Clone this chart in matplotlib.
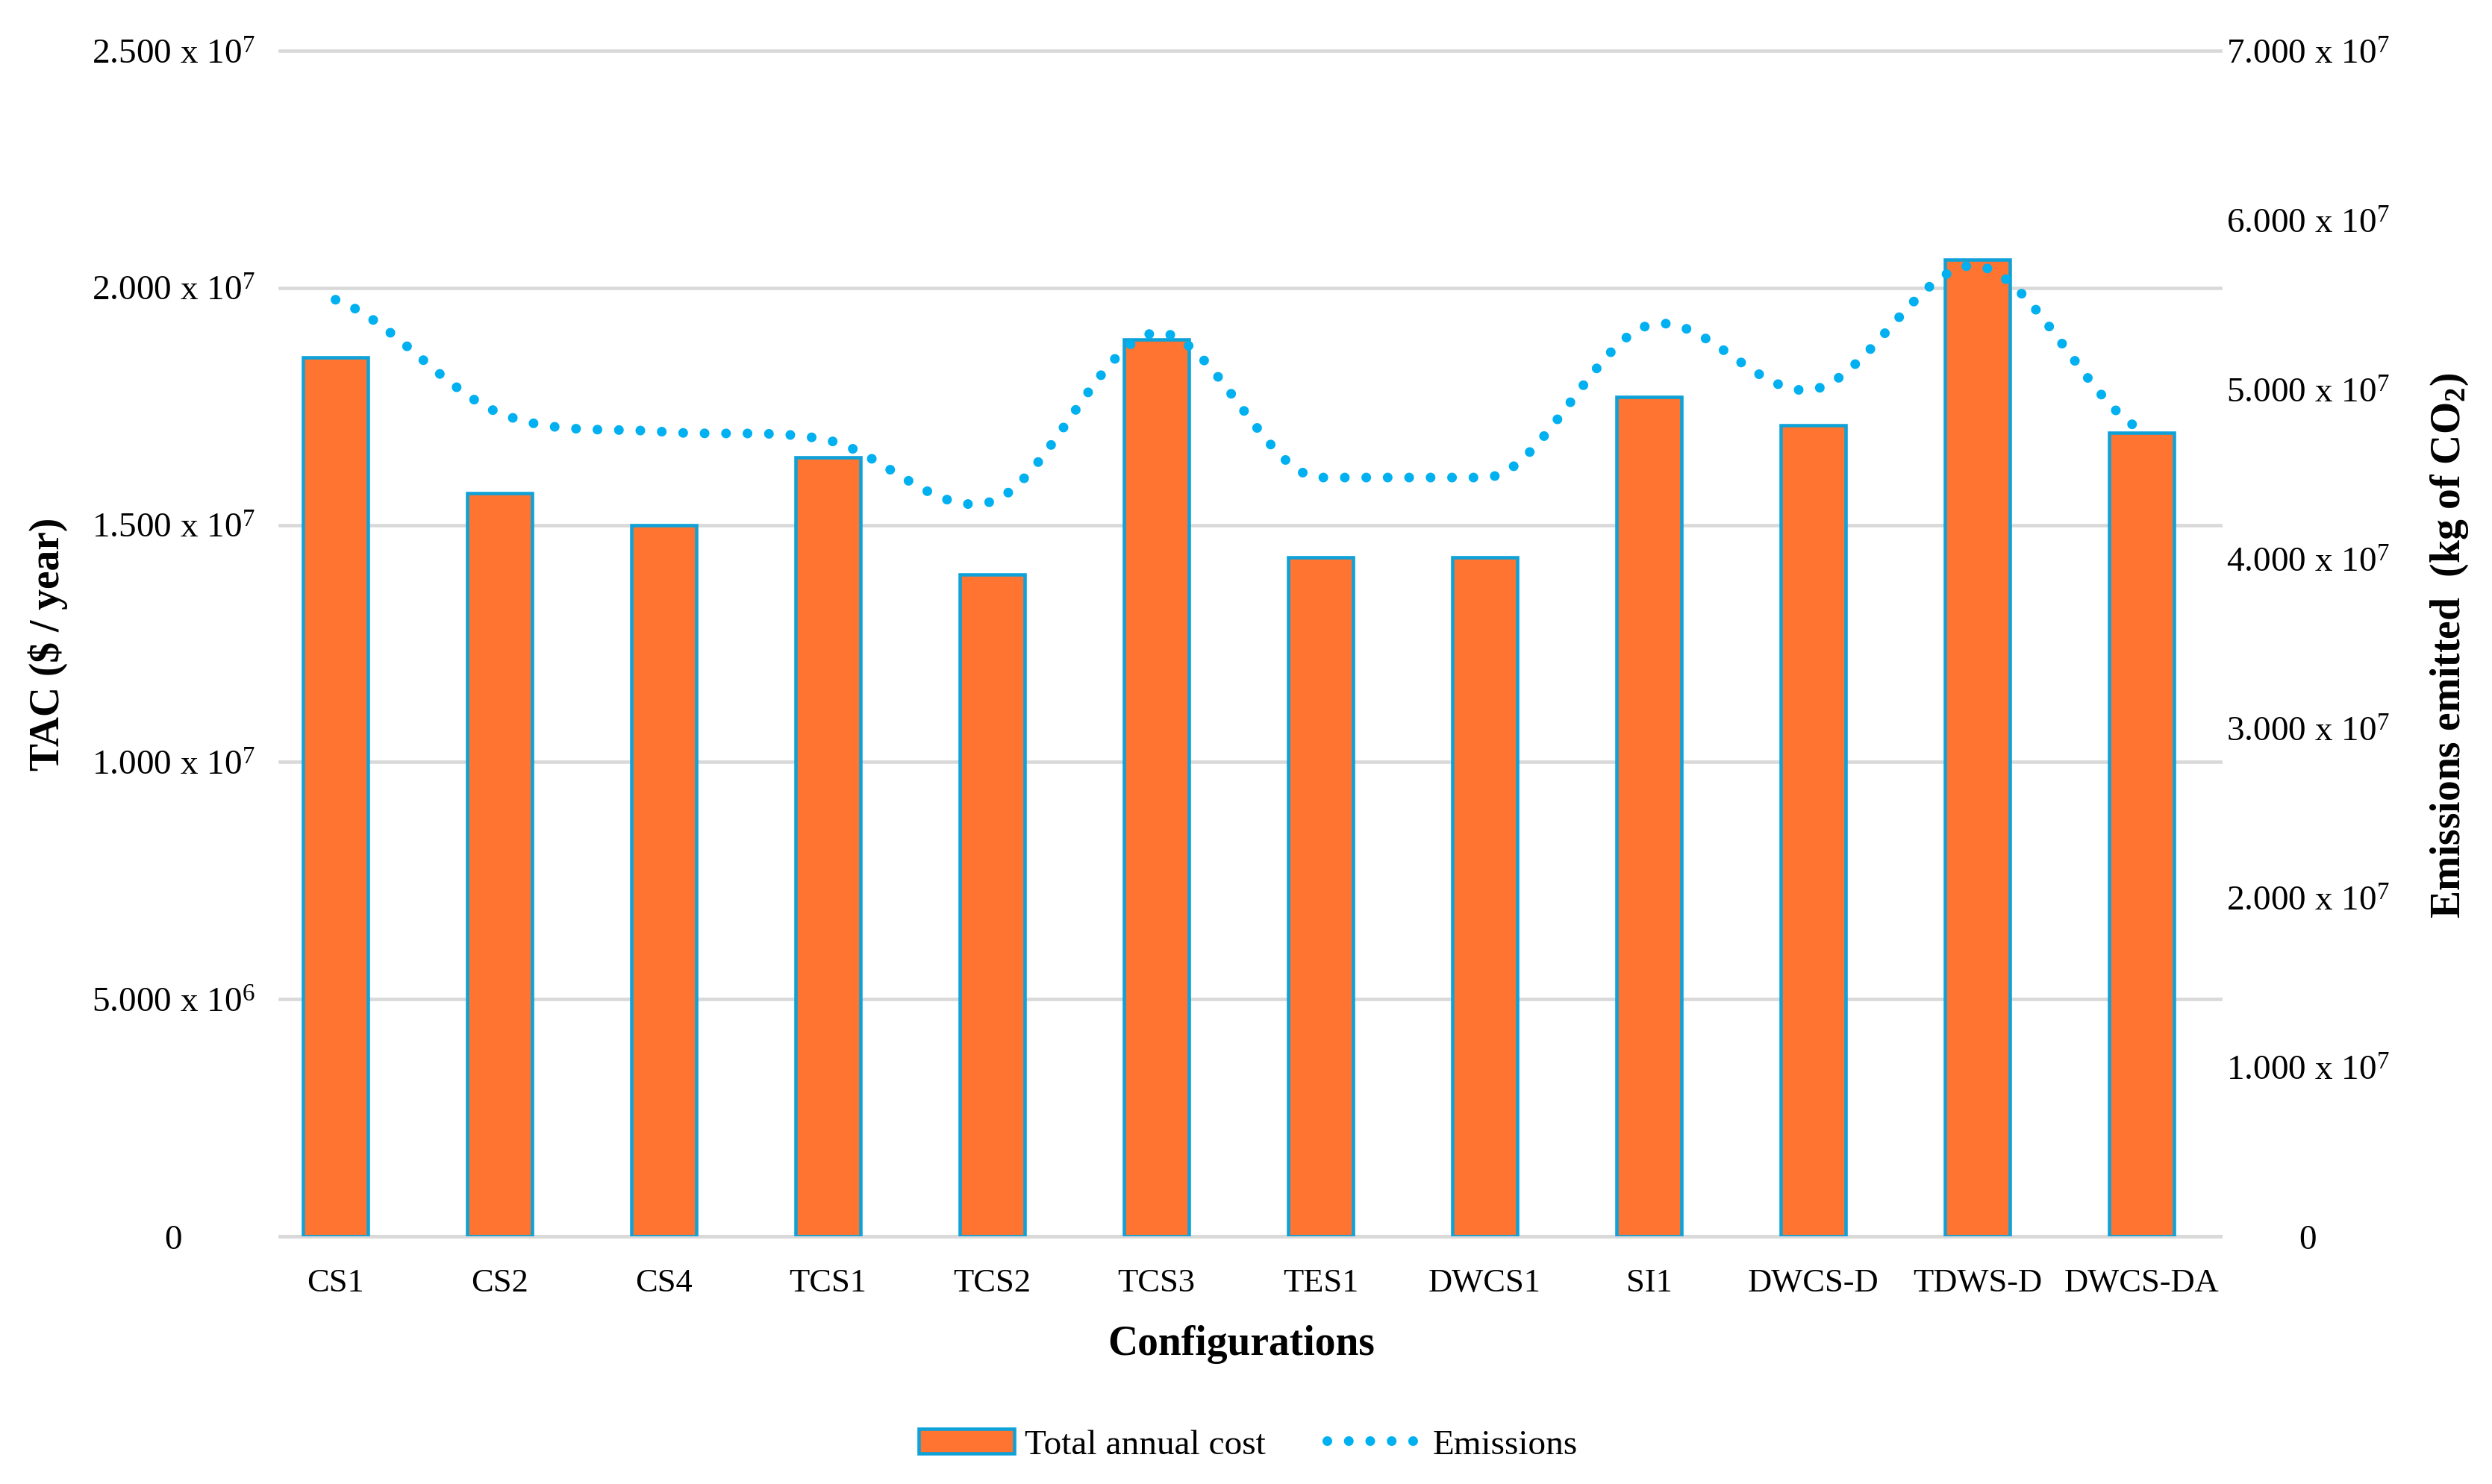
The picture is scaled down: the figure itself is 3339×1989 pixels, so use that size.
import numpy as np
import matplotlib
matplotlib.use("Agg")
import matplotlib.pyplot as plt
from matplotlib.path import Path
from matplotlib.patches import PathPatch, Patch
from matplotlib.lines import Line2D
import matplotlib.transforms as mtransforms

plt.rcParams['font.family'] = ['Liberation Serif', 'DejaVu Serif']
plt.rcParams['mathtext.fontset'] = 'custom'
plt.rcParams['mathtext.rm'] = 'Liberation Serif'
plt.rcParams['mathtext.it'] = 'Liberation Serif:italic'
plt.rcParams['mathtext.bf'] = 'Liberation Serif:bold'

# ---------------- data ----------------
categories = ["CS1", "CS2", "CS4", "TCS1", "TCS2", "TCS3", "TES1", "DWCS1",
              "SI1", "DWCS-D", "TDWS-D", "DWCS-DA"]
total_annual_cost = [18.53e6, 15.67e6, 15.00e6, 16.43e6, 13.95e6, 18.91e6,
                     14.32e6, 14.32e6, 17.70e6, 17.10e6, 20.59e6, 16.94e6]
emissions = [55.3e6, 48.6e6, 47.5e6, 47.0e6, 43.4e6, 53.35e6,
             44.8e6, 44.8e6, 53.8e6, 50.0e6, 57.3e6, 47.6e6]
left_ticks = [0, 5e6, 1e7, 1.5e7, 2e7, 2.5e7]
left_tick_labels = ["0", "5.000 x 10$^{\\mathrm{6}}$", "1.000 x 10$^{\\mathrm{7}}$",
                    "1.500 x 10$^{\\mathrm{7}}$", "2.000 x 10$^{\\mathrm{7}}$",
                    "2.500 x 10$^{\\mathrm{7}}$"]
right_ticks = [0, 1e7, 2e7, 3e7, 4e7, 5e7, 6e7, 7e7]
right_tick_labels = ["0"] + ["%d.000 x 10$^{\\mathrm{7}}$" % k for k in range(1, 8)]

# ---------------- style ----------------
BAR_FACE = '#ff7430'
BAR_EDGE = '#0fa2d8'
DOT = '#00b0f0'
GRID = '#d9d9d9'

W, H = 3339, 1990
fig = plt.figure(figsize=(W / 100, H / 100), dpi=100)
ax_l, ax_r, ax_b, ax_t = 375 / W, 2975 / W, 1 - 1658 / H, 1 - 69 / H
ax = fig.add_axes([ax_l, ax_b, ax_r - ax_l, ax_t - ax_b])
ax2 = ax.twinx()

x = np.arange(len(categories))
ax.bar(x, total_annual_cost, width=0.395, color=BAR_FACE, edgecolor=BAR_EDGE,
       linewidth=3.3, zorder=3)
ax.set_xlim(-0.339, 11.479)
ax.set_ylim(0, 2.5e7)
ax2.set_ylim(0, 7e7)

# grid
ax.set_yticks(left_ticks)
ax.yaxis.grid(True, color=GRID, linewidth=3.3, zorder=0)
ax.set_axisbelow(True)
for gl in ax.get_ygridlines():
    gl.set_clip_on(False)
ax.tick_params(axis='y', length=0, labelleft=False)
ax2.set_yticks(right_ticks)
ax2.tick_params(axis='y', length=0, labelright=False)
for sp in ['top', 'left', 'right']:
    ax.spines[sp].set_visible(False)
    ax2.spines[sp].set_visible(False)
ax2.spines['bottom'].set_visible(False)
ax.spines['bottom'].set_color(GRID)
ax.spines['bottom'].set_linewidth(3.3)

ax.set_xticks(x)
ax.set_xticklabels(categories, fontsize=32)
ax.tick_params(axis='x', length=0, pad=30)

# tick labels (manual placement, centered like the reference)
trans_l = mtransforms.blended_transform_factory(fig.transFigure, ax.transData)
for v, s in zip(left_ticks, left_tick_labels):
    fig.text(232 / W, v, s, transform=trans_l, ha='center', va='center_baseline',
             fontsize=34)
trans_r = mtransforms.blended_transform_factory(fig.transFigure, ax2.transData)
for v, s in zip(right_ticks, right_tick_labels):
    fig.text(3092 / W, v, s, transform=trans_r, ha='center', va='center_baseline',
             fontsize=34)

# smoothed emissions curve (Bezier through the data points)
ys = np.asarray(emissions, dtype=float)
n = len(ys)
m = np.zeros(n)
for i in range(n):
    yp = ys[max(i - 1, 0)]
    yn = ys[min(i + 1, n - 1)]
    left_s = ys[i] - yp
    right_s = yn - ys[i]
    if (i > 0 and left_s == 0) or (i < n - 1 and right_s == 0):
        m[i] = 0.0
    else:
        m[i] = (yn - yp) / 2.0
verts = [(x[0], ys[0])]
codes = [Path.MOVETO]
for i in range(n - 1):
    verts += [(x[i] + 1 / 3, ys[i] + m[i] / 3),
              (x[i + 1] - 1 / 3, ys[i + 1] - m[i + 1] / 3),
              (x[i + 1], ys[i + 1])]
    codes += [Path.CURVE4] * 3
dot_ls = (0, (0.001, 2.2))
curve = PathPatch(Path(verts, codes), facecolor='none', edgecolor=DOT,
                  linewidth=9.4, linestyle=dot_ls, capstyle='round', zorder=4)
ax2.add_patch(curve)

# axis titles
fig.text(64 / W, 0.566, "TAC ($ / year)", rotation=90, ha='center', va='center',
         fontsize=40, fontweight='bold')
fig.text(3282 / W, 0.565, "Emissions emitted  (kg of CO$_{\\mathbf{2}}$)", rotation=90,
         ha='center', va='center', fontsize=40, fontweight='bold')
fig.text(0.498, 0.0945, "Configurations", ha='center', va='center',
         fontsize=40, fontweight='bold')

# legend
h_bar = Patch(facecolor=BAR_FACE, edgecolor=BAR_EDGE, linewidth=3.3)
h_line = Line2D([], [], color=DOT, linewidth=9.4, linestyle=dot_ls,
                dash_capstyle='round')
fig.legend([h_bar, h_line], ["Total annual cost", "Emissions"], loc='center',
           bbox_to_anchor=(0.501, 0.0266), ncol=2, frameon=False, fontsize=34,
           handlelength=2.7, handletextpad=0.3, columnspacing=1.75)

fig.savefig("out.png", dpi=100, facecolor='white')
